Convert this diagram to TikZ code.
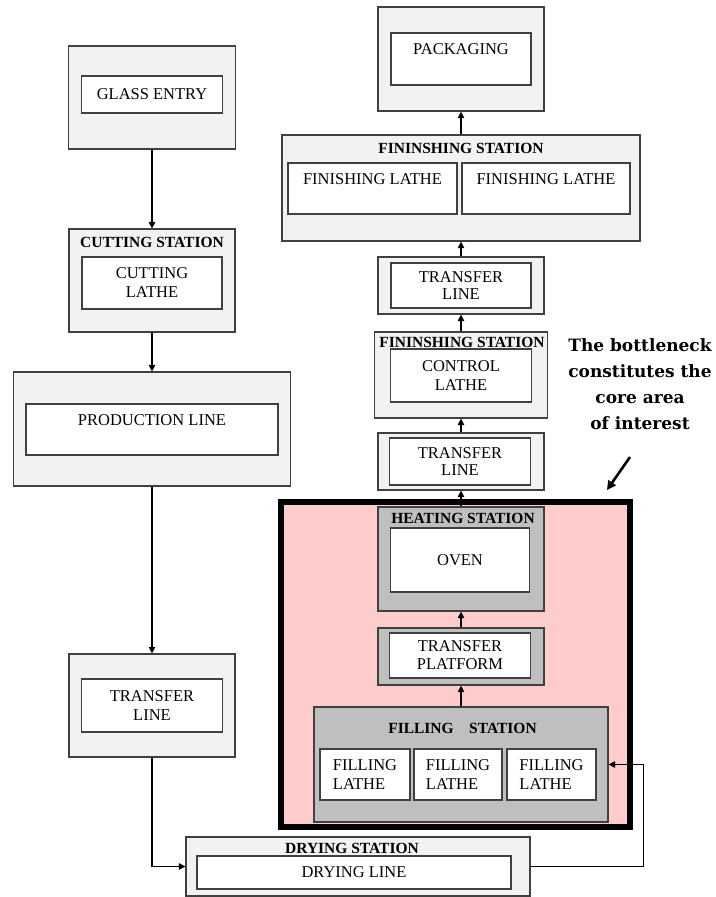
\documentclass[tikz,border=0pt]{standalone}
\usepackage{fontspec}
\setmainfont{Liberation Serif}
\newfontfamily\notefont{DejaVu Serif}
\usetikzlibrary{arrows.meta}
\definecolor{lineink}{HTML}{404040}
\definecolor{panel}{HTML}{F2F2F2}
\definecolor{hotgray}{HTML}{BFBFBF}
\definecolor{zonepink}{HTML}{FFCCCC}
\tikzset{
  sz/.style 2 args={minimum width=#1pt, minimum height=#2pt},
  bx/.style={draw=lineink, line width=1.2pt, inner sep=0pt, align=center, font=\fontsize{16.5}{19}\selectfont},
  pnl/.style={bx, fill=panel},
  hot/.style={bx, fill=hotgray},
  wht/.style={bx, fill=white},
  ttl/.style={font=\fontsize{15.5}{17}\selectfont\bfseries, inner sep=0pt},
  arr/.style={-{Triangle[length=6.5pt,width=6.5pt]}, line width=1.1pt},
  zone/.style={draw=black, line width=6pt, fill=zonepink},
  note/.style={font=\notefont\fontsize{17}{26}\selectfont\bfseries, align=center},
  notearr/.style={-{Triangle[length=9pt,width=9pt]}, line width=2.6pt},
}

\begin{document}
\begin{tikzpicture}[x=1pt, y=-1pt]
  \useasboundingbox (0,0) rectangle (715,897);
  % glass side, top to bottom
  \node[pnl, sz={167}{103}] (entry) at (152,97.5) {};
  \node[wht, sz={141}{37}] (entryin) at (152,94.5) {GLASS ENTRY};
  \node[pnl, sz={166}{103}] (cut) at (152,280.5) {};
  \node[ttl] (cutttl) at (152,242) {CUTTING STATION};
  \node[wht, sz={140}{52}] (cutin) at (152,283) {CUTTING\\LATHE};
  \node[pnl, sz={277}{114}] (prod) at (152,429) {};
  \node[wht, sz={252}{51}] (prodin) at (152,429.5) {PRODUCTION LINE\\\mbox{}};
  \node[pnl, sz={166}{103}] (trl) at (152,705.5) {};
  \node[wht, sz={141}{53}] (trlin) at (152,705.5) {TRANSFER\\LINE};
  \node[pnl, sz={344}{59}] (dry) at (358,866.5) {};
  \node[ttl] (dryttl) at (352,848) {DRYING STATION};
  \node[wht, sz={314}{33}] (dryin) at (354,872.5) {DRYING LINE};
  % finishing side
  \node[pnl, sz={166}{104}] (pack) at (461,59) {};
  \node[wht, sz={140}{52}] (packin) at (461,59) {PACKAGING\\\mbox{}};
  \node[pnl, sz={358}{106}] (fin) at (461,188) {};
  \node[ttl] (finttl) at (461,148) {FININSHING STATION};
  \node[wht, sz={169}{51}] (fina) at (372.5,188.5) {FINISHING LATHE\\\mbox{}};
  \node[wht, sz={168}{51}] (finb) at (546,188.5) {FINISHING LATHE\\\mbox{}};
  \node[pnl, sz={166}{57}] (trtop) at (461,285.5) {};
  \node[wht, sz={140}{45}] (trtopin) at (461,285.5) {TRANSFER\\[-2pt]LINE};
  \node[pnl, sz={173}{86}] (ctl) at (461,375) {};
  \node[ttl] (ctlttl) at (462,342) {FININSHING STATION};
  \node[wht, sz={141}{53}] (ctlin) at (461,375.5) {CONTROL\\LATHE};
  \node[pnl, sz={166}{57}] (trmid) at (461,461.5) {};
  \node[wht, sz={141}{47}] (trmidin) at (460,461.5) {TRANSFER\\[-2pt]LINE};
  % bottleneck
  \node[zone, sz={349}{325}] (zone) at (455.5,664.5) {};
  \node[hot, sz={166}{104}] (heat) at (461,559) {};
  \node[ttl] (heatttl) at (463,518) {HEATING STATION};
  \node[wht, sz={139}{64}] (heatin) at (460,560) {OVEN};
  \node[hot, sz={166}{57}] (plat) at (461,656.5) {};
  \node[wht, sz={141}{45}] (platin) at (460,655.5) {TRANSFER\\[-1pt]PLATFORM};
  \node[hot, sz={294}{115}] (fill) at (461,764.5) {};
  \node[ttl] (fillttl) at (462.5,728) {FILLING\quad STATION};
  \node[wht, sz={90}{51}, align=left] (filla) at (365,774.5) {FILLING\\LATHE};
  \node[wht, sz={88}{51}, align=left] (fillb) at (458,774.5) {FILLING\\LATHE};
  \node[wht, sz={89}{51}, align=left] (fillc) at (551.5,774.5) {FILLING\\LATHE};
  \node[note] (note) at (640,384) {The bottleneck\\constitutes the\\core area\\of interest};
  \coordinate (tail) at (630,457);
  \coordinate (tip) at (607,490);
  % flow
  \foreach \a/\b in {entry/cut,cut/prod,prod/trl} \draw[arr] (\a.south) -- (\a.south |- \b.north);
  \foreach \a/\b in {fill/plat,plat/heat,heat/trmid,trmid/ctl,ctl/trtop,trtop/fin,fin/pack} \draw[arr] (\a.north) -- (\a.north |- \b.south);
  \draw[arr] (trl.south) |- (dry.west);
  \draw[arr] (dry.east) -| ([xshift=35pt]fill.east) -- (fill.east);
  \draw[notearr] (tail) -- (tip);
\end{tikzpicture}
\end{document}
